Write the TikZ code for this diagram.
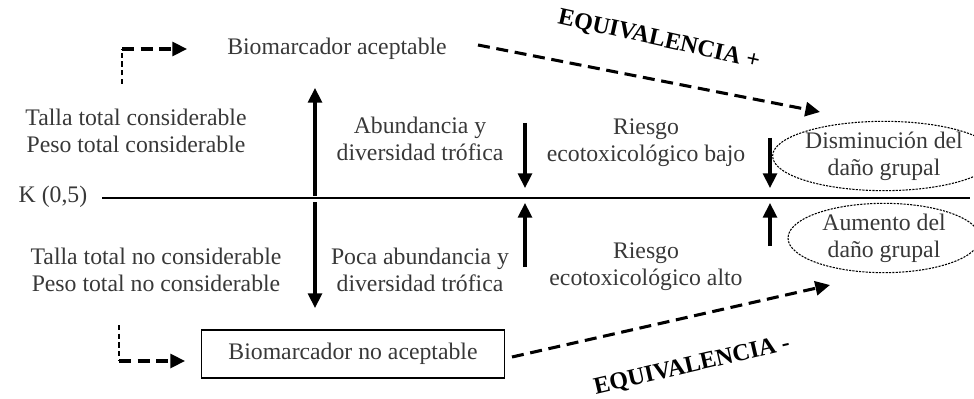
\documentclass[tikz,border=0pt]{standalone}
\usepackage{fontspec}
\setmainfont{Liberation Serif}
\usetikzlibrary{arrows.meta,shapes.geometric}

\tikzset{
  lbl/.style={text=black!78, align=center, inner sep=0pt,
    font=\fontsize{17.8}{20.3}\selectfont},
  eqlbl/.style={text=black, inner sep=0pt,
    font=\fontsize{18}{20}\selectfont\bfseries},
  bigarrow/.style={line width=2.3pt, -{Triangle[length=11pt,width=10.5pt]}},
  dasharrow/.style={line width=2.3pt, dash pattern=on 9pt off 5pt,
    -{Triangle[length=11pt,width=10.5pt]}},
  thindash/.style={line width=1.2pt, dash pattern=on 4pt off 2.5pt},
  dotellipse/.style={ellipse, draw, line width=0.8pt,
    dash pattern=on 1.6pt off 0.9pt, inner sep=0pt,
    minimum width=144pt, minimum height=52pt},
}

\begin{document}
\begin{tikzpicture}[x=0.75pt, y=-0.75pt]
  \useasboundingbox (0,0) rectangle (974,399);

  \node[lbl] (k) at (53,197) {K (0,5)};
  \coordinate (kend) at (970,198);
  \draw[line width=1.1pt] ([xshift=11pt]k.east |- kend) -- (kend);

  \node[lbl] (acep) at (337,49) {Biomarcador aceptable};
  \node[lbl, draw=black, line width=1.1pt, minimum width=227pt,
    minimum height=36pt] (noacep) at (353,354) {Biomarcador no aceptable};

  \node[lbl] (tallac) at (136,131) {Talla total considerable\\Peso total considerable};
  \node[lbl] (tallan) at (156,270) {Talla total no considerable\\Peso total no considerable};
  \node[lbl] (abund) at (420,139) {Abundancia y\\diversidad tr\'ofica};
  \node[lbl] (poca) at (420,270) {Poca abundancia y\\diversidad tr\'ofica};
  \node[lbl] (bajo) at (646,143) {Riesgo\\ecotoxicol\'ogico bajo};
  \node[lbl] (alto) at (646,267) {Riesgo\\ecotoxicol\'ogico alto};

  \node[lbl, dotellipse] (dism) at (884,156) {Disminuci\'on del\\da\~no grupal};
  \node[lbl, dotellipse] (aum) at (884,238) {Aumento del\\da\~no grupal};

  % flechas verticales
  \coordinate (u0) at (315,196); \coordinate (u1) at (315,88);
  \coordinate (d0) at (315,202); \coordinate (d1) at (315,308);
  \draw[bigarrow] (u0) -- (u1);
  \draw[bigarrow] (d0) -- (d1);
  \coordinate (a0) at (525,123); \coordinate (a1) at (525,188);
  \coordinate (b0) at (525,267); \coordinate (b1) at (525,203);
  \draw[bigarrow] (a0) -- (a1);
  \draw[bigarrow] (b0) -- (b1);
  \coordinate (c0) at (770,138); \coordinate (c1) at (770,188);
  \coordinate (e0) at (770,246); \coordinate (e1) at (770,203);
  \draw[bigarrow] (c0) -- (c1);
  \draw[bigarrow] (e0) -- (e1);

  % codos
  \coordinate (t0) at (122,84); \coordinate (t1) at (122,49);
  \coordinate (t2) at (187,49);
  \draw[thindash] (t0) -- (t1);
  \draw[dasharrow] (t1) -- (t2);
  \coordinate (s0) at (119,325); \coordinate (s1) at (119,361);
  \coordinate (s2) at (185,361);
  \draw[thindash] (s0) -- (s1);
  \draw[dasharrow] (s1) -- (s2);

  % equivalencias
  \coordinate (p0) at (478,45); \coordinate (p1) at (820,112);
  \draw[dasharrow] (p0) -- (p1);
  \node[eqlbl, rotate=-12.5] (eqp) at (659,40) {EQUIVALENCIA +};
  \coordinate (m0) at (512,357); \coordinate (m1) at (830,285);
  \draw[dasharrow] (m0) -- (m1);
  \node[eqlbl, rotate=13] (eqm) at (692,366) {EQUIVALENCIA -};
\end{tikzpicture}
\end{document}
